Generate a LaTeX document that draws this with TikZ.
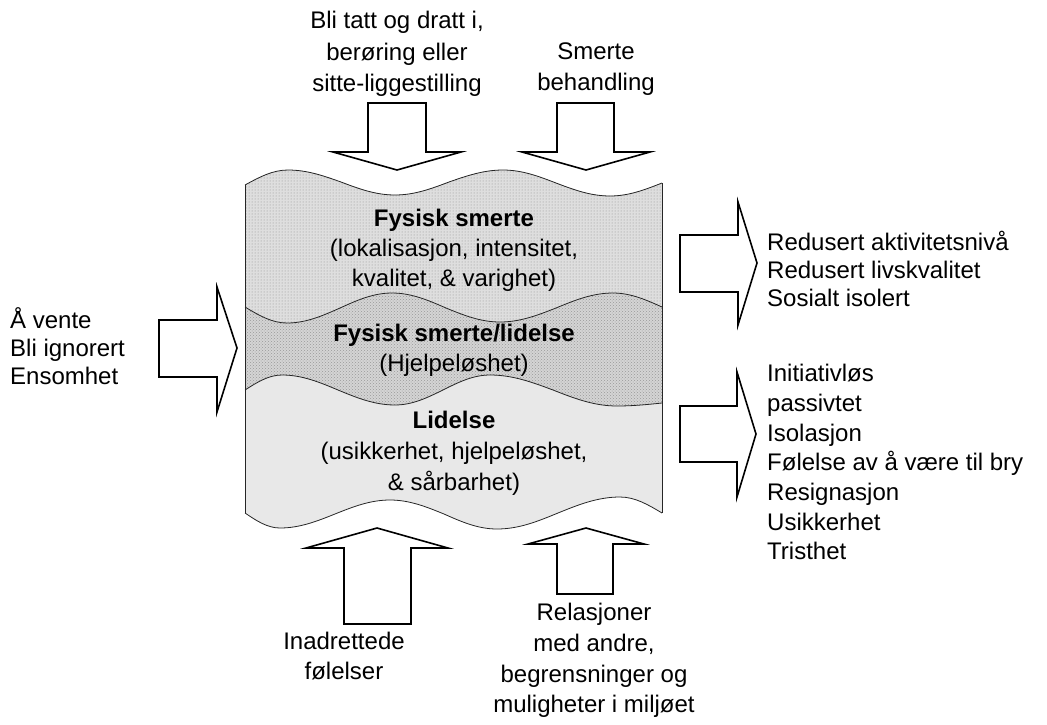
\documentclass[tikz,border=0pt]{standalone}
\usepackage{fontspec}
\setmainfont{Liberation Sans}
\usetikzlibrary{patterns}

\newcommand{\bolgetopp}{(245,185) sin (288,170) cos (341,182) sin (395,195) cos (449,182) sin (503,170) cos (556,183) sin (610,196) cos (662,183)}
\newcommand{\bolgeen}{(245,307) sin (287,323) cos (340,308) sin (392,293) cos (446,308) sin (500,322) cos (556,308) sin (613,293) cos (662,307)}
\newcommand{\bolgeto}{(245,390) sin (282,375) cos (338,390) sin (395,405) cos (443,390) sin (490,375) cos (553,390) sin (617,406) cos (662,403)}
\newcommand{\bolgebunn}{(245,513) sin (280,528) cos (335,514) sin (390,500) cos (444,514) sin (497,529) cos (558,513) sin (620,497) cos (662,513)}

\begin{document}
\begin{tikzpicture}[x=1pt,y=-1pt,
        pil/.style={fill=white,draw=black,line width=1.6pt,miter limit=10},
        kant/.style={draw=black!85,line width=0.8pt},
        smerte/.style={fill=black!13,postaction={pattern=dots,pattern color=black!45}},
        smertelidelse/.style={fill=black!17,postaction={pattern=crosshatch dots,pattern color=black!40}},
        lidelse/.style={fill=black!9},
        tekst/.style={inner sep=0pt,font=\fontsize{24}{30}\selectfont}]
        \useasboundingbox (0,0) rectangle (1047,724);
        \begin{scope}
                \clip \bolgetopp -- (662,560) -- (245,560) -- cycle;
                \clip \bolgebunn -- (662,150) -- (245,150) -- cycle;
                \fill[lidelse] (245,150) rectangle (662,560);
                \fill[smertelidelse] \bolgeto -- (662,150) -- (245,150) -- cycle;
                \fill[smerte] \bolgeen -- (662,150) -- (245,150) -- cycle;
        \end{scope}
        \draw[kant] \bolgetopp;
        \draw[kant] \bolgeen;
        \draw[kant] \bolgeto;
        \draw[kant] \bolgebunn;
        \draw[kant] (245,185)--(245,513);
        \draw[kant] (662,183)--(662,513);
        \filldraw[pil](368,103)--(426,103)--(426,152)--(461,152)--(397,170)--(333,152)--(368,152)--cycle;
        \filldraw[pil](557,103)--(614,103)--(614,152)--(650,152)--(586,170)--(522,152)--(557,152)--cycle;
        \filldraw[pil](344,624)--(411,624)--(411,548)--(448,548)--(377,528)--(306,548)--(344,548)--cycle;
        \filldraw[pil](557,594)--(613,594)--(613,544)--(644,544)--(586,528)--(528,544)--(557,544)--cycle;
        \filldraw[pil](159,320)--(217,320)--(217,287)--(237,348)--(217,412)--(217,377)--(159,377)--cycle;
        \filldraw[pil](680,235)--(738,235)--(738,202)--(757,263)--(738,325)--(738,292)--(680,292)--cycle;
        \filldraw[pil](680,406)--(737,406)--(737,372)--(756,434)--(737,497)--(737,462)--(680,462)--cycle;
        \fill[black]
                (397,11) node (tatt) [tekst,anchor=north,align=center,font=\fontsize{24}{31.5}\selectfont] {Bli tatt og dratt i,\\berøring eller\\sitte-liggestilling}
                (596,43) node (behandling) [tekst,anchor=north,align=center,font=\fontsize{24}{31}\selectfont] {Smerte\\behandling}
                (10,307) node (vente) [tekst,anchor=north west,align=left,font=\fontsize{24}{28}\selectfont] {Å vente\\Bli ignorert\\Ensomhet}
                (454,209) node (fysisk) [tekst,anchor=north,align=center] {\textbf{Fysisk smerte}\\(lokalisasjon, intensitet,\\kvalitet, \& varighet)}
                (454,324) node (fysisklidelse) [tekst,anchor=north,align=center] {\textbf{Fysisk smerte/lidelse}\\(Hjelpeløshet)}
                (454,411) node (lidelsetxt) [tekst,anchor=north,align=center,font=\fontsize{24}{31}\selectfont] {\textbf{Lidelse}\\(usikkerhet, hjelpeløshet,\\\& sårbarhet)}
                (767,231) node (redusert) [tekst,anchor=north west,align=left,font=\fontsize{24}{28}\selectfont] {Redusert aktivitetsnivå\\Redusert livskvalitet\\Sosialt isolert}
                (767,364) node (initiativ) [tekst,anchor=north west,align=left,font=\fontsize{24}{29.7}\selectfont] {Initiativløs\\passivtet\\Isolasjon\\Følelse av å være til bry\\Resignasjon\\Usikkerhet\\Tristhet}
                (344,632) node (inadrettede) [tekst,anchor=north,align=center] {Inadrettede\\følelser}
                (594,603) node (relasjoner) [tekst,anchor=north,align=center,font=\fontsize{24}{30.7}\selectfont] {Relasjoner\\med andre,\\begrensninger og\\muligheter i miljøet};
\end{tikzpicture}
\end{document}
